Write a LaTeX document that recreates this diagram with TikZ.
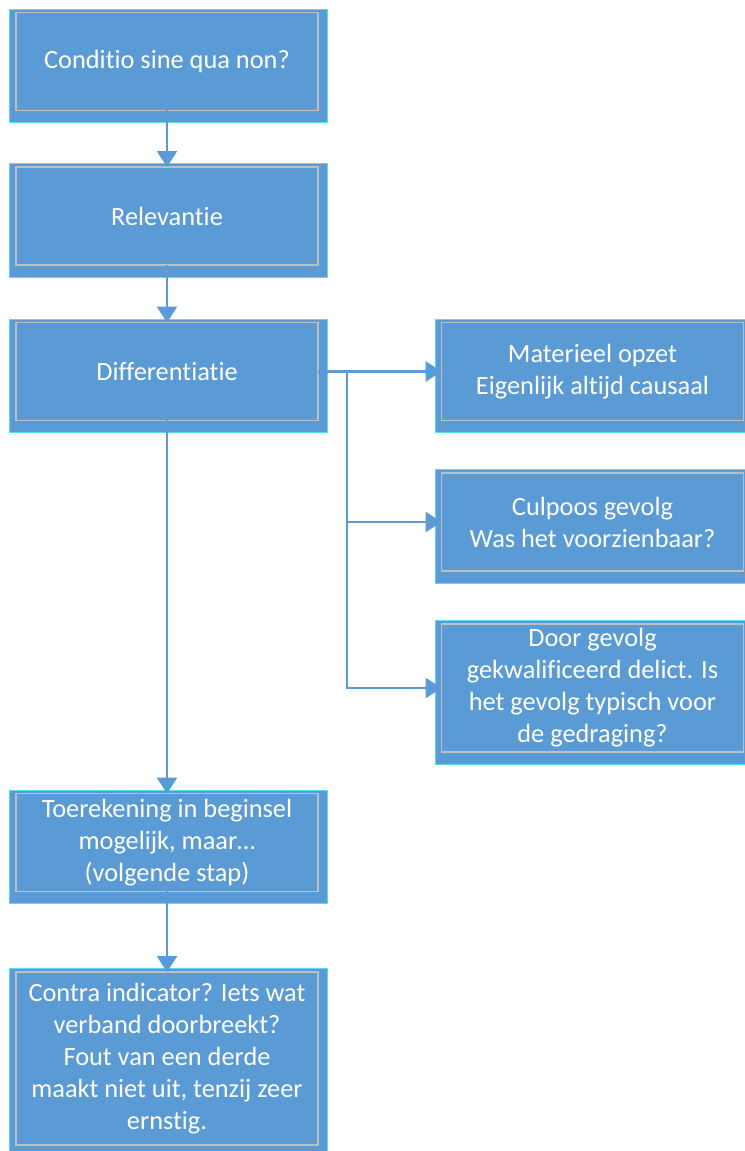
\documentclass[tikz,border=0pt]{standalone}
\usepackage{fontspec}
\setmainfont{Carlito}[RawFeature={-liga,-clig,-calt}]
\usetikzlibrary{arrows.meta,backgrounds}
\definecolor{stapblauw}{RGB}{91,155,213}
\definecolor{randgrijs}{RGB}{191,191,191}
\definecolor{randcyaan}{RGB}{90,220,240}

\tikzset{
  stap/.style={rectangle, draw=randgrijs, line width=0.8pt, fill=stapblauw,
    text=white, align=center, minimum width=6.04cm, minimum height=1.96cm,
    inner sep=0pt, outer sep=0pt, font=\fontsize{15}{18.2}\selectfont},
  pijl/.style={draw=stapblauw, line width=1.6pt,
    -{Triangle[length=0.32cm,width=0.4cm]}}
}

\begin{document}
\begin{tikzpicture}[x=0.02cm,y=-0.02cm]
        \useasboundingbox (0,0) rectangle (744,1151);

        % Main column
        \node[stap] (conditio) at (167,61.5) {Conditio sine qua non?};
        \node[stap] (relevantie) at (167,216) {Relevantie};
        \node[stap] (differentiatie) at (167,371.5) {Differentiatie};
        \node[stap] (toerekening) at (167,842.5) {Toerekening in beginsel\\mogelijk, maar…\\(volgende stap)};
        \node[stap,minimum height=3.46cm] (contra) at (167,1058.5) {Contra indicator? Iets wat\\verband doorbreekt?\\Fout van een derde\\maakt niet uit, tenzij zeer\\ernstig.};

        % Side column
        \node[stap] (materieel) at (592.5,371.5) {Materieel opzet\\Eigenlijk altijd causaal};
        \node[stap] (culpoos) at (592.5,522) {Culpoos gevolg\\Was het voorzienbaar?};
        \node[stap,minimum height=2.56cm] (gekwalificeerd) at (592.5,688) {Door gevolg\\gekwalificeerd delict. Is\\het gevolg typisch voor\\de gedraging?};

        % Outer frames
        \begin{scope}[on background layer]
            \foreach \n in {conditio,relevantie,differentiatie,toerekening,contra,materieel,culpoos,gekwalificeerd} {
                \filldraw[fill=stapblauw,draw=randcyaan,line width=0.5pt]
                    ([shift={(-0.13cm,0.07cm)}]\n.north west) rectangle ([shift={(0.18cm,-0.24cm)}]\n.south east);
            }
        \end{scope}

        % Connectors
        \coordinate (splitsing) at ([xshift=0.58cm]differentiatie.east);
        \draw[pijl] (conditio) -- (relevantie);
        \draw[pijl] (relevantie) -- (differentiatie);
        \draw[pijl] (differentiatie) -- (toerekening);
        \draw[pijl] (toerekening) -- (contra);
        \draw[pijl] (differentiatie.east) -- (materieel.west);
        \draw[pijl] (splitsing) |- (culpoos.west);
        \draw[pijl] (splitsing) |- (gekwalificeerd.west);
    \end{tikzpicture}
\end{document}
